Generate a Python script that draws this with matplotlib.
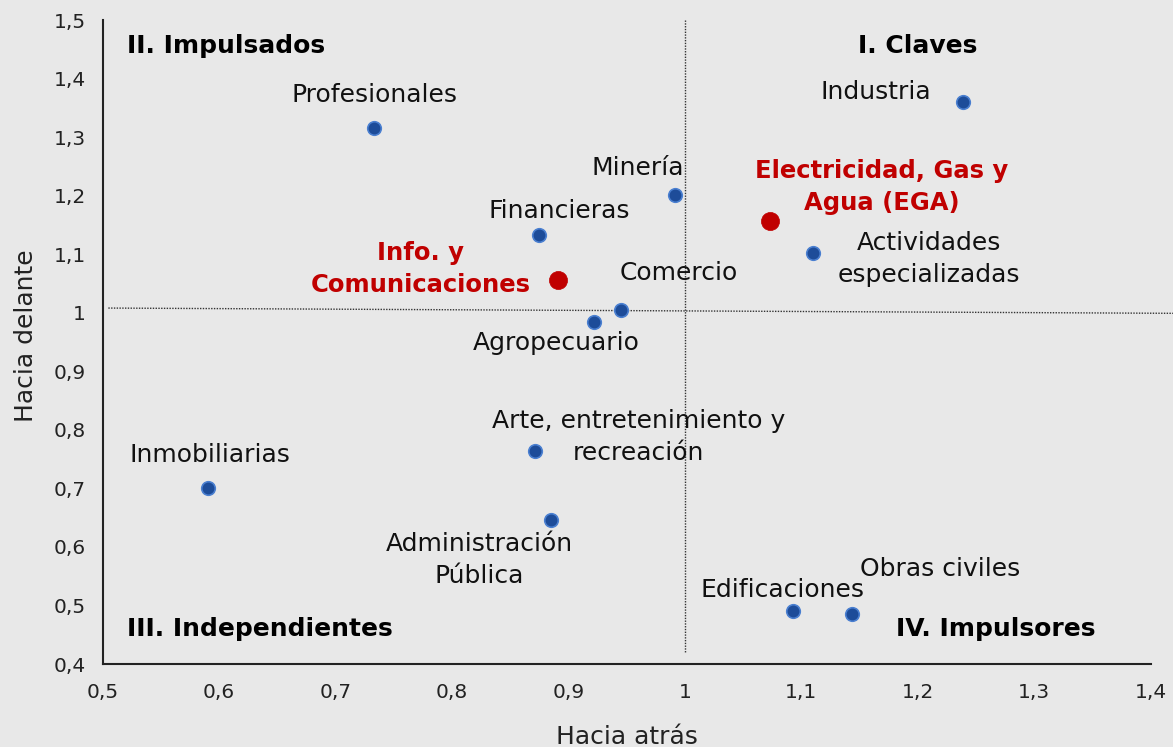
import matplotlib.pyplot as plt
import matplotlib.ticker as ticker

# Encadenamientos hacia atras / hacia delante por sector

sectores = ['Profesionales', 'Industria', 'Minería', 'Financieras',
            'Actividades\nespecializadas', 'Comercio', 'Agropecuario',
            'Arte, entretenimiento y\nrecreación', 'Inmobiliarias',
            'Administración\nPública', 'Edificaciones', 'Obras civiles']
atras = [0.733, 1.239, 0.992, 0.875, 1.110, 0.945, 0.922, 0.871, 0.591, 0.885, 1.093, 1.144]
delante = [1.316, 1.360, 1.201, 1.133, 1.102, 1.005, 0.984, 0.764, 0.701, 0.646, 0.491, 0.485]

destacados = ['Electricidad, Gas y\nAgua (EGA)', 'Info. y\nComunicaciones']
atras_d = [1.073, 0.891]
delante_d = [1.157, 1.056]

cuadrantes = ['I. Claves', 'II. Impulsados', 'III. Independientes', 'IV. Impulsores']

# label offsets in pixels from each point
off = [(1, 33), (-87, 10), (-38, 27), (20, 24), (116, -6), (58, 37), (-38, -21),
       (104, 14), (1, 33), (-72, -40), (-11, 21), (88, 45)]
off_d = [(112, 34), (-137, 11)]

bg = '#e8e8e8'
azul = '#1d4c99'
rojo = '#c00000'

fig = plt.figure(figsize=(11.73, 7.47), dpi=100, facecolor=bg)
ax = fig.add_axes([0.0874, 0.1111, 0.8935, 0.8621])
ax.set_facecolor(bg)

ax.plot([1.0, 1.0], [1.5, 0.42], ls=(0, (1, 1)), color='#333333', lw=1.0, zorder=1, clip_on=False)
ax.plot([0.505, 1.42], [1.008, 0.999], ls=(0, (1, 1)), color='#333333', lw=1.0, zorder=1, clip_on=False)

ax.scatter(atras, delante, s=95, color=azul, edgecolor='#4a7fd0', linewidth=1.2, zorder=3)
ax.scatter(atras_d, delante_d, s=170, color=rojo, edgecolor=rojo, linewidth=0.5, zorder=3)

for x, y, t, (dx, dy) in zip(atras, delante, sectores, off):
    ax.annotate(t, xy=(x, y), xytext=(dx, dy), textcoords='offset pixels',
                ha='center', va='center', fontsize=18, color='#111111',
                multialignment='center', linespacing=1.4)

for x, y, t, (dx, dy) in zip(atras_d, delante_d, destacados, off_d):
    ax.annotate(t, xy=(x, y), xytext=(dx, dy), textcoords='offset pixels',
                ha='center', va='center', fontsize=17.5, color=rojo, fontweight='bold',
                multialignment='center', linespacing=1.4)

ax.text(1.2, 1.455, cuadrantes[0], ha='center', va='center', fontsize=18, fontweight='bold')
ax.text(0.521, 1.455, cuadrantes[1], ha='left', va='center', fontsize=18, fontweight='bold')
ax.text(0.521, 0.459, cuadrantes[2], ha='left', va='center', fontsize=18, fontweight='bold')
ax.text(1.353, 0.459, cuadrantes[3], ha='right', va='center', fontsize=18, fontweight='bold')

ax.set_xlim(0.5, 1.4)
ax.set_ylim(0.4, 1.5)
ax.xaxis.set_major_locator(ticker.MultipleLocator(0.1))
ax.yaxis.set_major_locator(ticker.MultipleLocator(0.1))
fmt = ticker.FuncFormatter(lambda v, p: ('%g' % round(v, 2)).replace('.', ','))
ax.xaxis.set_major_formatter(fmt)
ax.yaxis.set_major_formatter(fmt)
ax.tick_params(length=0, labelsize=14.5, colors='#222222', pad=14)
ax.tick_params(axis='y', pad=12)

for s in ['top', 'right']:
    ax.spines[s].set_visible(False)
for s in ['left', 'bottom']:
    ax.spines[s].set_color('#222222')
    ax.spines[s].set_linewidth(1.5)

ax.set_xlabel('Hacia atrás', fontsize=18, color='#222222', labelpad=16)
ax.set_ylabel('Hacia delante', fontsize=18, color='#222222')
ax.yaxis.set_label_coords(-0.062, 0.51)

fig.savefig('out.png', dpi=100, facecolor=bg)
